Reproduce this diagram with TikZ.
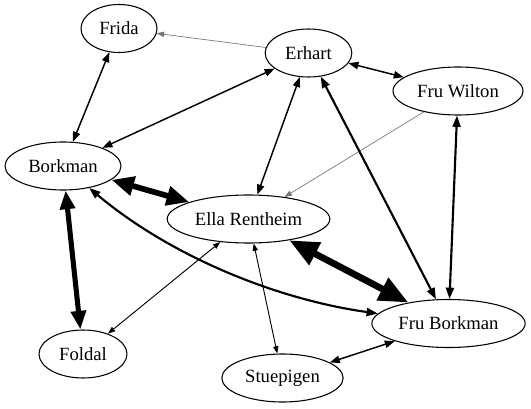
\documentclass[tikz,border=0pt]{standalone}
\usepackage{fontspec}
\setmainfont{Liberation Serif}
\usepackage{tikz}
\usetikzlibrary{shapes.geometric,arrows.meta}

\begin{document}
\begin{tikzpicture}[x=0.75pt,y=0.75pt]
\tikzset{vertex/.style = {shape=ellipse,draw,line width=0.8pt,inner sep=0pt,minimum height=36pt,font=\fontsize{14pt}{16pt}\selectfont}}
\tikzset{lite/.style = {-{Triangle[length=5.5pt,width=4pt]},draw=black!55,line width=0.5pt}}
\tikzset{thin edge/.style = {{Triangle[length=5.5pt,width=4pt]}-{Triangle[length=5.5pt,width=4pt]},line width=0.7pt}}
\tikzset{norm/.style = {{Triangle[length=7.5pt,width=5.5pt]}-{Triangle[length=7.5pt,width=5.5pt]},line width=1.1pt}}
\tikzset{mid/.style = {{Triangle[length=8.5pt,width=6pt]}-{Triangle[length=8.5pt,width=6pt]},line width=1.6pt}}
\tikzset{heavy/.style = {{Triangle[length=14pt,width=11pt]}-{Triangle[length=14pt,width=11pt]},line width=3.8pt}}
\tikzset{heavier/.style = {{Triangle[length=17pt,width=14pt]}-{Triangle[length=17pt,width=14pt]},line width=4.3pt}}
\tikzset{huge/.style = {{Triangle[length=22pt,width=18pt]}-{Triangle[length=22pt,width=18pt]},line width=5pt}}
\useasboundingbox (0,0) rectangle (531,408);
%\draw (0,0) rectangle (531,408);
\node[vertex,minimum width=57pt] (fr) at (119,379.5) {Frida};
\node[vertex,minimum width=65pt] (er) at (308.5,355) {Erhart};
\node[vertex,minimum width=97.5pt] (fw) at (458,317) {Fru Wilton};
\node[vertex,minimum width=87pt] (bo) at (63,242) {Borkman};
\node[vertex,minimum width=122pt] (el) at (248.5,189) {Ella Rentheim};
\node[vertex,minimum width=115pt] (fb) at (448.5,84.5) {Fru Borkman};
\node[vertex,minimum width=66pt] (fo) at (83,54) {Foldal};
\node[vertex,minimum width=91pt] (st) at (282.5,30) {Stuepigen};
\path
(er) edge[lite] (fr)
(fw) edge[lite] (el)
(fr) edge[norm] (bo)
(er) edge[norm] (bo)
(er) edge[norm] (fw)
(er) edge[norm] (el)
(st) edge[norm] (fb)
(er) edge[mid] (fb)
(fw) edge[mid] (fb)
(bo) edge[mid,out=-40,in=172,looseness=0.85] (fb)
(el) edge[thin edge] (fo)
(el) edge[thin edge] (st)
(bo) edge[heavier] (el)
(bo) edge[heavy] (fo)
(el) edge[huge] (fb);
\end{tikzpicture}
\end{document}
